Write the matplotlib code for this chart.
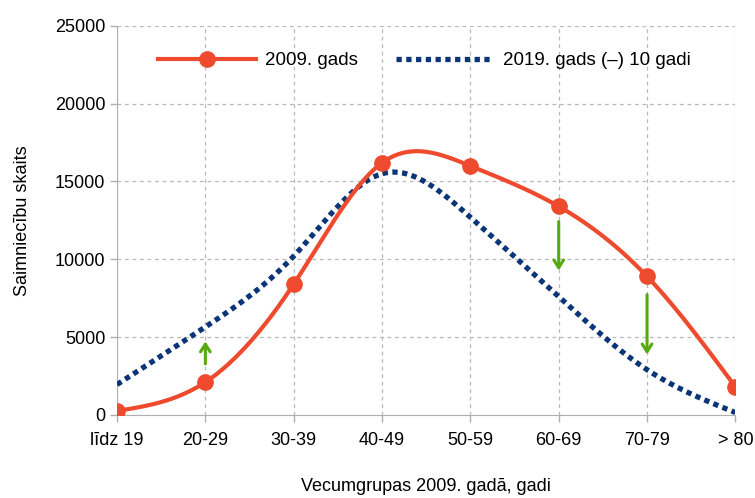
import numpy as np
import matplotlib
matplotlib.use("Agg")
import matplotlib.pyplot as plt

plt.rcParams['font.family'] = ['Liberation Sans', 'DejaVu Sans']

# vecumgrupas un dati
groups = ['līdz 19', '20-29', '30-39', '40-49', '50-59', '60-69', '70-79', '> 80']
y2009 = [250, 2100, 8400, 16200, 16000, 13400, 8900, 1800]
y2019 = [1950, 5650, 10200, 15500, 12700, 7600, 2900, 150]

# bultiņas: grupa, no, līdz
arrows = [(1, 3100, 4900), (5, 12600, 9100), (6, 7900, 3700)]


def spline(y, n=300):
    # dabiskais kubiskais splains
    y = np.asarray(y, dtype=float)
    k = len(y)
    A = np.zeros((k, k))
    b = np.zeros(k)
    A[0, 0] = A[-1, -1] = 1
    for i in range(1, k - 1):
        A[i, i - 1], A[i, i], A[i, i + 1] = 1, 4, 1
        b[i] = 6 * (y[i + 1] - 2 * y[i] + y[i - 1])
    M = np.linalg.solve(A, b)
    xs = np.linspace(0, k - 1, n)
    idx = np.minimum(xs.astype(int), k - 2)
    t = xs - idx
    ys = ((1 - t) * y[idx] + t * y[idx + 1]
          + ((1 - t) ** 3 - (1 - t)) * M[idx] / 6
          + (t ** 3 - t) * M[idx + 1] / 6)
    return xs, ys


red = '#ee4a2d'
blue = '#0b3577'
green = '#55aa10'

fig, ax = plt.subplots(figsize=(7.55, 4.98), dpi=100)
fig.subplots_adjust(left=0.155, right=0.974, top=0.948, bottom=0.167)

x = np.arange(len(groups))
xs, ys = spline(y2019)
ax.plot(xs, ys, color=blue, lw=3.8, dashes=(1, 0.85), dash_capstyle='butt',
        label='2019. gads (–) 10 gadi', zorder=3)
xs, ys = spline(y2009)
ax.plot(xs, ys, color=red, lw=3, zorder=4)
ax.plot(x, y2009, 'o', color=red, ms=11, zorder=5)
ax.plot([], [], '-o', color=red, lw=3, ms=11, label='2009. gads')

for gi, y0, y1 in arrows:
    ax.annotate('', xy=(gi, y1), xytext=(gi, y0),
                arrowprops=dict(arrowstyle='->,head_length=0.55,head_width=0.35',
                                color=green, lw=2.2), zorder=6)

ax.set_xlim(0, len(groups) - 1)
ax.set_ylim(0, 25000)
ax.set_xticks(x)
ax.set_xticklabels(groups)
ax.set_yticks(np.arange(0, 25001, 5000))
ax.tick_params(labelsize=13, color='#b0b0b0', length=5, width=1)
ax.tick_params(axis='x', pad=7)
ax.grid(True, ls=(0, (3, 3)), color='#b8b8b8', lw=0.9)
for s in ['top', 'right']:
    ax.spines[s].set_visible(False)
for s in ['left', 'bottom']:
    ax.spines[s].set_color('#b0b0b0')

ax.set_ylabel('Saimniecību skaits', fontsize=13, labelpad=17)
ax.set_xlabel('Vecumgrupas 2009. gadā, gadi', fontsize=13, labelpad=21)

h, l = ax.get_legend_handles_labels()
ax.legend(h[::-1], l[::-1], ncol=2, loc='center', bbox_to_anchor=(0.497, 0.91),
          frameon=False, fontsize=13.5, handlelength=5.2, columnspacing=2.0,
          handletextpad=0.5)

fig.savefig('out.png', dpi=100)
